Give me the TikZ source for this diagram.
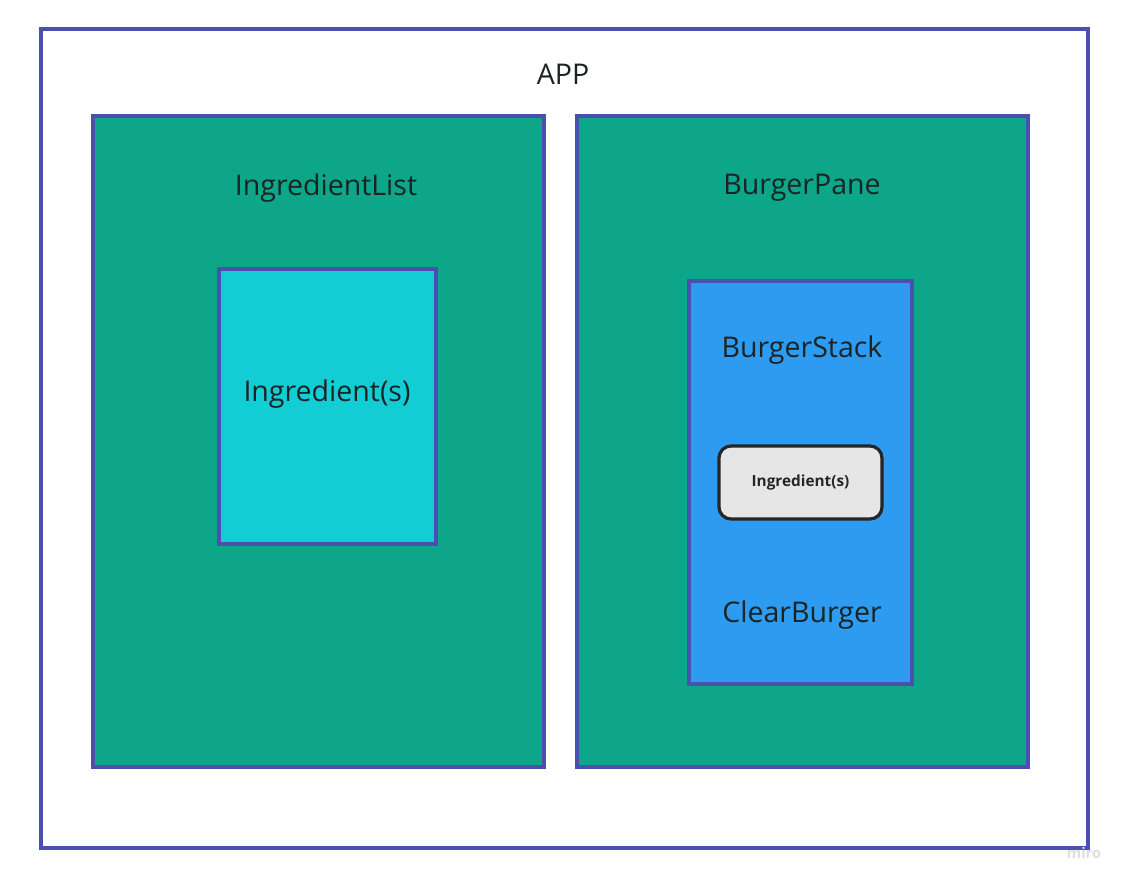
\documentclass[tikz,border=0pt]{standalone}
\usepackage{fontspec}
\setmainfont{Open Sans}
\usepackage{tikz}
\definecolor{frameblue}{RGB}{74,79,176}
\definecolor{panegreen}{RGB}{14,166,136}
\definecolor{listcyan}{RGB}{18,205,212}
\definecolor{stackblue}{RGB}{45,155,240}
\definecolor{chipgray}{RGB}{230,230,230}
\definecolor{inkdark}{RGB}{26,36,36}
\tikzset{
  frame/.style={draw=frameblue, line width=2.6pt},
  label/.style={text=inkdark, font=\fontsize{21.4}{25}\selectfont, inner sep=0pt},
}

\begin{document}
\begin{tikzpicture}[x=0.75pt,y=-0.75pt]
\useasboundingbox (0,0) rectangle (1130,884);
% app frame
\draw[frame, fill=white] (41,29) rectangle (1088,848);
\node[label] (app) at (563,74) {APP};
% left pane
\draw[frame, fill=panegreen] (93,116) rectangle (544,767);
\node[label] (ingredientlist) at (326,188) {IngredientList};
\draw[frame, fill=listcyan] (219,269) rectangle (436,544);
\node[label] (ingredients) at (327,394) {Ingredient(s)};
% right pane
\draw[frame, fill=panegreen] (577,116) rectangle (1028,767);
\node[label] (burgerpane) at (802,188) {BurgerPane};
\draw[frame, fill=stackblue] (689,281) rectangle (912,684);
\node[label] (burgerstack) at (802,350) {BurgerStack};
\draw[draw=black!85, line width=2.4pt, rounded corners=9pt, fill=chipgray] (719,446) rectangle (882,519);
\node[text=black!85, font=\bfseries\fontsize{11.5}{14}\selectfont, inner sep=0pt] (stackitem) at (800.5,483) {Ingredient(s)};
\node[label] (clearburger) at (802,615) {ClearBurger};
% watermark
\node[text=black!13, font=\bfseries\fontsize{11}{13}\selectfont, inner sep=0pt] (miro) at (1084,853) {miro};
\end{tikzpicture}
\end{document}
